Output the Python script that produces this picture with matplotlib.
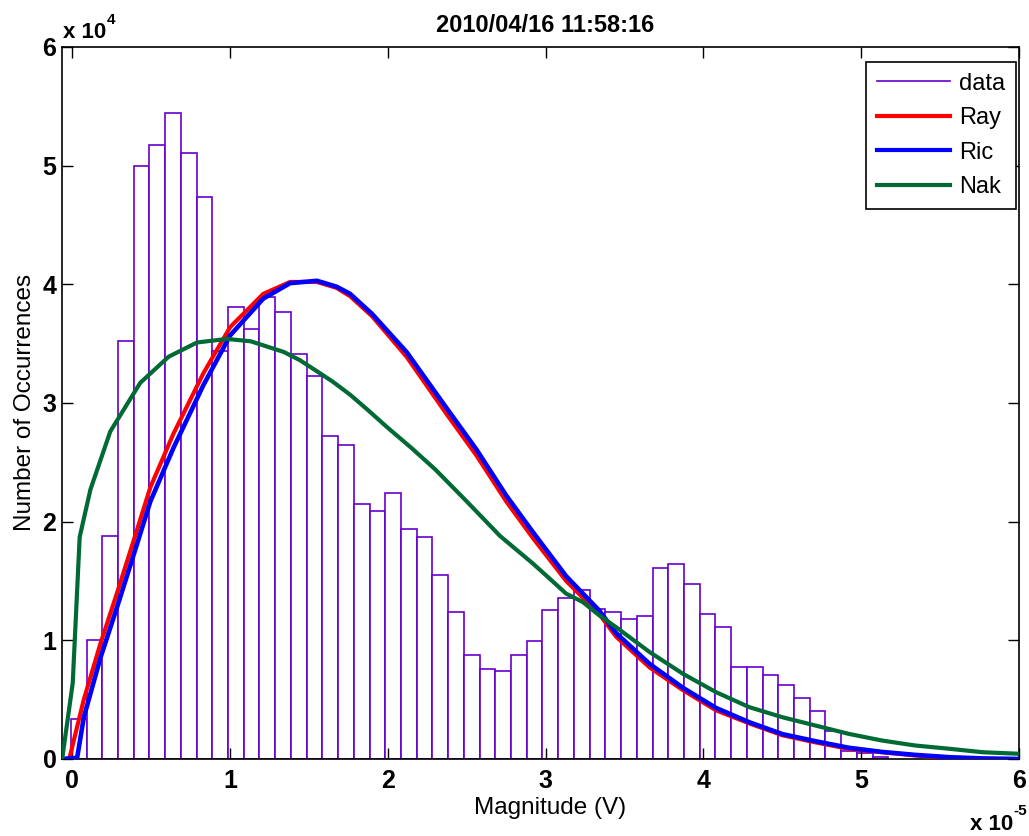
import numpy as np
import matplotlib
matplotlib.use('Agg')
import matplotlib.pyplot as plt
from matplotlib.lines import Line2D
from matplotlib.ticker import FuncFormatter

plt.rcParams['font.family'] = ['Liberation Sans', 'DejaVu Sans']

# Histogram of magnitudes (x in units of 1e-5 V)
bin_start = -0.01  # left edge of first bin
bin_width = 0.09965
counts = [3360, 10000, 18800, 35250, 50000, 51700, 54450, 51100, 47350, 34350,
          38070, 36200, 38970, 37700, 34160, 32290, 27220, 26430, 21520, 20870,
          22440, 19350, 18700, 15470, 12380, 8730, 7600, 7400, 8730, 9910,
          12520, 13590, 14270, 12660, 12380, 11760, 12040, 16090, 16400, 14710,
          12240, 11110, 7740, 7740, 7120, 6200, 5130, 4030, 2340, 650,
          520, 200]

# Fitted distributions
ray_x = [-0.065, -0.02, 0.072, 0.177, 0.283, 0.388, 0.494, 0.64, 0.83, 1.0,
         1.21, 1.38, 1.55, 1.675, 1.76, 1.9, 2.118, 2.37, 2.56, 2.75,
         2.92, 3.13, 3.34, 3.447, 3.66, 3.87, 4.08, 4.29, 4.5, 4.71,
         4.92, 5.13, 5.34, 5.56, 5.77, 6.0]
ray_y = [0, 0, 5000, 9700, 14000, 18400, 22900, 27400, 32500, 36400,
         39200, 40200, 40200, 39700, 39000, 37300, 33900, 29100, 25600, 21700,
         18600, 15000, 12200, 10300, 7700, 5800, 4100, 3000, 2000, 1400,
         860, 570, 300, 100, 0, 0]

ric_x = [-0.065, 0.03, 0.072, 0.177, 0.283, 0.388, 0.494, 0.64, 0.83, 1.0,
         1.21, 1.38, 1.55, 1.675, 1.76, 1.9, 2.118, 2.37, 2.56, 2.75,
         2.92, 3.13, 3.34, 3.447, 3.66, 3.87, 4.08, 4.29, 4.5, 4.71,
         4.92, 5.13, 5.34, 5.56, 5.77, 6.0]
ric_y = [0, 100, 3500, 8500, 12800, 17200, 21700, 26200, 31500, 35700,
         38800, 40100, 40300, 39800, 39200, 37500, 34300, 29600, 26100, 22200,
         19100, 15400, 12500, 10600, 8000, 6000, 4300, 3100, 2100, 1500,
         950, 600, 350, 150, 50, 0]

nak_x = [-0.065, 0.002, 0.046, 0.114, 0.24, 0.43, 0.61, 0.79, 0.98, 1.13,
         1.34, 1.443, 1.57, 1.65, 1.76, 1.865, 2.0, 2.15, 2.3, 2.5,
         2.71, 2.92, 3.025, 3.13, 3.236, 3.34, 3.447, 3.66, 3.87, 4.08,
         4.29, 4.5, 4.71, 4.92, 5.13, 5.34, 5.56, 5.77, 6.0]
nak_y = [0, 6400, 18700, 22700, 27600, 31700, 33900, 35100, 35400, 35200,
         34300, 33600, 32500, 31800, 30700, 29500, 27900, 26200, 24400, 21700,
         18800, 16460, 15200, 13930, 13220, 12100, 11100, 9000, 7180, 5630,
         4370, 3520, 2820, 2120, 1560, 1140, 860, 570, 440]

title = '2010/04/16 11:58:16'
purple = '#6600cc'
green = '#006a35'

fig = plt.figure(figsize=(10.29, 8.36), dpi=100)
ax = fig.add_axes([62 / 1029, 1 - 759 / 836, (1019 - 62) / 1029, (759 - 47) / 836])

left_edges = bin_start + bin_width * np.arange(len(counts))
ax.bar(left_edges, counts, width=bin_width, align='edge', facecolor='white',
       edgecolor=purple, linewidth=1.2, zorder=1)

ax.plot(ray_x, ray_y, color='red', lw=3, zorder=3)
ax.plot(ric_x, ric_y, color='blue', lw=3.3, zorder=4)
ax.plot(nak_x, nak_y, color=green, lw=3, zorder=5)

ax.set_xlim(-0.066, 6.0)
ax.set_ylim(0, 60000)
ax.set_xticks(range(0, 7))
ax.set_yticks(range(0, 60001, 10000))
ax.yaxis.set_major_formatter(FuncFormatter(lambda v, p: '%d' % round(v / 1e4)))
ax.tick_params(direction='in', length=8, width=1, top=True, right=True,
               labelsize=18)
ax.tick_params(axis='y', pad=4)
ax.tick_params(axis='x', pad=7)
for lab in ax.get_xticklabels() + ax.get_yticklabels():
    lab.set_fontweight('bold')
for s in ax.spines.values():
    s.set_linewidth(1.2)

fig.text(550 / 1029, 1 - 808 / 836, 'Magnitude (V)', fontsize=17.5,
         ha='center', va='center')
fig.text(25 / 1029, 1 - 402 / 836, 'Number of Occurrences', fontsize=17.5,
         rotation=90, ha='center', va='center')
fig.text(545 / 1029, 1 - 26 / 836, title, fontsize=17, fontweight='bold',
         ha='center', va='center')

# exponent labels, MATLAB style
fig.text(63 / 1029, 1 - 33 / 836, 'x 10', fontsize=16, fontweight='bold',
         ha='left', va='center')
fig.text(107 / 1029, 1 - 20 / 836, '4', fontsize=11, fontweight='bold',
         ha='left', va='center')
fig.text(970 / 1029, 1 - 824 / 836, 'x 10', fontsize=16, fontweight='bold',
         ha='left', va='center')
fig.text(1013 / 1029, 1 - 811 / 836, '-5', fontsize=11, fontweight='bold',
         ha='left', va='center')

handles = [Line2D([], [], color=purple, lw=1.2),
           Line2D([], [], color='red', lw=3),
           Line2D([], [], color='blue', lw=3),
           Line2D([], [], color=green, lw=3)]
leg = ax.legend(handles, ['data', 'Ray', 'Ric', 'Nak'], loc='upper right',
                bbox_to_anchor=(1016 / 1029, 1 - 62 / 836),
                bbox_transform=fig.transFigure, borderaxespad=0,
                fontsize=17, fancybox=False, framealpha=1, edgecolor='black',
                handlelength=3.1, handletextpad=0.4, labelspacing=0.53,
                borderpad=0.45)
leg.get_frame().set_linewidth(1.2)

fig.savefig('out.png', dpi=100)
